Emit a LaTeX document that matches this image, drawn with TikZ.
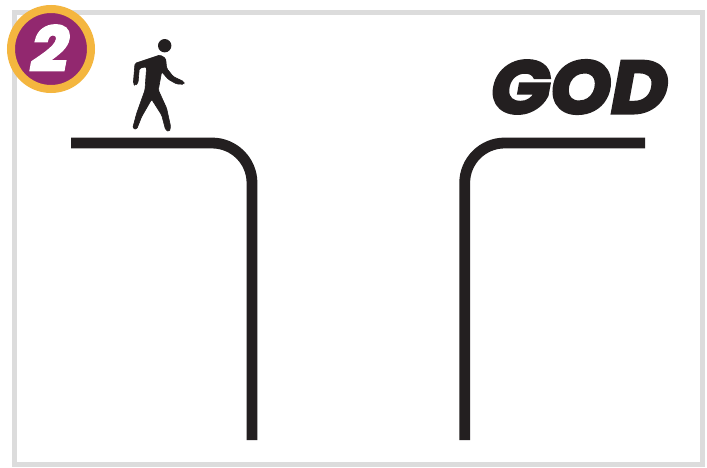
\documentclass[tikz,border=0pt]{standalone}
\usepackage{fontspec}
\newfontfamily\godfont[BoldItalicFeatures={FakeBold=4,FakeStretch=1.05}]{Poppins}
\definecolor{ink}{HTML}{231F20}
\definecolor{frame}{HTML}{DCDCDC}
\definecolor{gold}{HTML}{F4B63F}
\definecolor{plum}{HTML}{92286F}
\tikzset{ledge/.style={draw=ink,line width=10.8pt,rounded corners=40pt}}
\begin{document}
\begin{tikzpicture}[x=1pt,y=-1pt]
    \useasboundingbox (0,0) rectangle (707,467);
    \fill[white] (0,0) rectangle (707,467);
    \draw[frame,line width=5pt] (14.5,12.5) rectangle (702,464.5);
    \draw[ledge] (71,143) -- (252,143) -- (252,440);
    \draw[ledge] (645,143) -- (464.7,143) -- (464.7,440);
    \fill[ink] (164.7,45.7) circle (6.7pt);
    \filldraw[ink,line width=.6pt,rounded corners=1.5pt,x=.3333pt,y=-.3333pt] (480,165) -- (497,175) -- (500,205) -- (520,230) -- (552,245) -- (552,253) -- (530,252) -- (505,238) -- (485,215) -- (475,270) -- (500,325) -- (512,380) -- (508,395) -- (497,390) -- (485,345) -- (455,298) -- (425,350) -- (410,388) -- (398,385) -- (410,340) -- (435,270) -- (440,200) -- (418,205) -- (414,250) -- (405,257) -- (400,250) -- (405,190) -- cycle;
    \draw[fill=plum,draw=gold,line width=8pt] (51,49) circle (40pt);
    \node[white,inner sep=0pt,font=\godfont\bfseries\itshape\fontsize{62}{62}\selectfont] (badge) at (50,48) {2};
    \node[ink,inner sep=0pt,font=\godfont\bfseries\itshape\fontsize{74}{74}\selectfont] (god) at (579.5,87) {GOD};
\end{tikzpicture}
\end{document}
